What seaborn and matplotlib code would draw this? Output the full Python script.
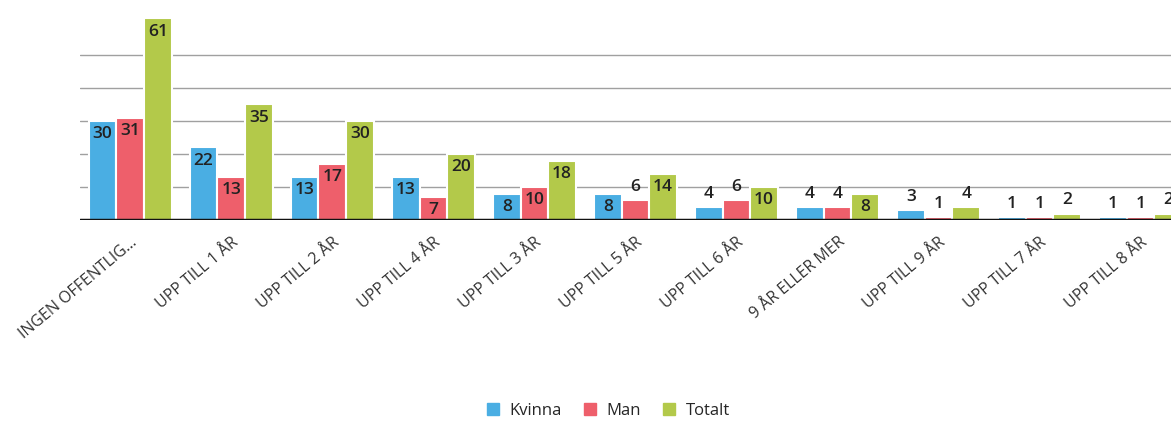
import numpy as np
import pandas as pd
import seaborn as sns
import matplotlib.pyplot as plt
from matplotlib.lines import Line2D

categories = ['INGEN OFFENTLIG...', 'UPP TILL 1 ÅR', 'UPP TILL 2 ÅR', 'UPP TILL 4 ÅR',
              'UPP TILL 3 ÅR', 'UPP TILL 5 ÅR', 'UPP TILL 6 ÅR', '9 ÅR ELLER MER',
              'UPP TILL 9 ÅR', 'UPP TILL 7 ÅR', 'UPP TILL 8 ÅR']
kvinna = [30, 22, 13, 13, 8, 8, 4, 4, 3, 1, 1]
man = [31, 13, 17, 7, 10, 6, 6, 4, 1, 1, 1]
totalt = [61, 35, 30, 20, 18, 14, 10, 8, 4, 2, 2]
series = ['Kvinna', 'Man', 'Totalt']
colors = ['#4AAEE3', '#EE5F6B', '#B3C94A']

df = pd.DataFrame({'kategori': categories, 'Kvinna': kvinna, 'Man': man, 'Totalt': totalt})
df = df.melt(id_vars='kategori', var_name='serie', value_name='antal')

sns.set_style('white')
plt.rcParams['font.family'] = ['Open Sans', 'DejaVu Sans']

fig = plt.figure(figsize=(11.71, 4.21), dpi=100)
ax = fig.add_axes([0.068, 0.477, 0.932, 0.487])

sns.barplot(data=df, x='kategori', y='antal', hue='serie', palette=colors,
            hue_order=series, width=0.82, saturation=1, edgecolor='white',
            linewidth=1.5, legend=False, ax=ax)

# grid lines like the original (no tick labels)
for yv in range(10, 51, 10):
    ax.axhline(yv, color='#a0a0a0', lw=1, zorder=0)
ax.axhline(0, color='#111111', lw=2.5, zorder=3)

for cont in ax.containers:
    for bar in cont:
        v = bar.get_height()
        yl = v - 4 if v >= 7 else v + 4
        ax.text(bar.get_x() + bar.get_width() / 2, yl, f'{int(v)}',
                ha='center', va='center', fontsize=12.5, fontweight='semibold',
                color='#222222', zorder=4)

ax.set_ylim(0, 62)
ax.set_xlim(-0.5, 10.3)
ax.set_yticks([])
ax.set_xlabel('')
ax.set_ylabel('')
for s in ax.spines.values():
    s.set_visible(False)
ax.tick_params(axis='x', length=0, pad=10)
ax.set_xticks(range(len(categories)))
ax.set_xticklabels(categories, rotation=40, ha='right', rotation_mode='anchor',
                   fontsize=11.5, color='#333333')

handles = [Line2D([], [], marker='s', ls='', color=c, markersize=8) for c in colors]
fig.legend(handles, series, loc='lower center', ncol=3, frameon=False,
           bbox_to_anchor=(0.515, -0.03), fontsize=12, handletextpad=0.0,
           columnspacing=0.7)

fig.savefig('out.png', dpi=100, facecolor='white')
